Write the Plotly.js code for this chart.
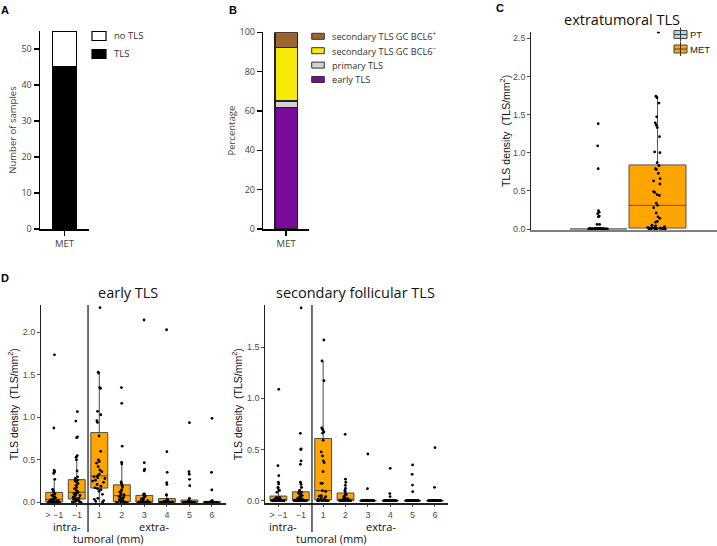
<!DOCTYPE html>
<html><head><meta charset="utf-8">
<script src="https://cdn.plot.ly/plotly-3.0.1.min.js"></script>
<style>html,body{margin:0;padding:0;background:#fff}#chart{width:717px;height:546px}</style>
</head><body><div id="chart"></div>
<script>
// ---------------- DATA ----------------
// Panel A
const metCategory = ['MET'];
const tlsCount = [45];
const noTlsCount = [10];
const panelALegend = ['no TLS', 'TLS'];

// Panel B (percent of TLS types, bottom to top)
const tlsTypeNames = ['early TLS', 'primary TLS', 'secondary TLS GC BCL6<sup>−</sup>', 'secondary TLS GC BCL6<sup>+</sup>'];
const tlsTypePercent = [61.7, 3.5, 27.0, 7.8];

// Panel C (extratumoral TLS density)
const extraGroups = ['PT', 'MET'];
const extraPT = [1.38, 1.09, 0.79, 0.24, 0.22, 0.20, 0.17, 0.16, 0.06, 0.06,
  0.005, 0.005, 0.005, 0.005,
  0, 0, 0, 0, 0, 0, 0, 0, 0, 0, 0, 0, 0, 0, 0, 0, 0, 0, 0, 0, 0, 0, 0, 0, 0, 0, 0, 0, 0, 0, 0];
const extraMET = [0, 0, 0, 0, 0, 0, 0.005, 0.01, 0.01, 0.01, 0.01, 0.012, 0.012,
  0.02, 0.02, 0.03, 0.04, 0.05, 0.09, 0.10, 0.14, 0.16, 0.21, 0.28, 0.31,
  0.34, 0.44, 0.45, 0.48, 0.49, 0.59, 0.63, 0.66, 0.73, 0.78, 0.79, 0.83,
  0.87, 1.00, 1.01, 1.21, 1.33, 1.36, 1.39, 1.47, 1.65, 1.72, 1.74, 2.58];

// Panel D (TLS density by distance to tumour border)
const distanceLabels = ['> −1', '−1', '1', '2', '3', '4', '5', '6'];
const earlyGtM1 = [0, 0, 0, 0, 0, 0, 0, 0, 0, 0.005, 0.008, 0.01, 0.012, 0.015, 0.02, 0.022, 0.025, 0.03, 0.035,
  0.043, 0.05, 0.063, 0.07, 0.082, 0.09, 0.094, 0.10, 0.11, 0.137, 0.153, 0.27, 0.34, 0.356, 0.37, 0.374, 0.874, 1.735];
const earlyM1 = [0, 0, 0, 0.005, 0.01, 0.01, 0.02, 0.025, 0.03, 0.035, 0.04, 0.045, 0.05, 0.06, 0.07, 0.08, 0.09, 0.10, 0.105, 0.11,
  0.118, 0.13, 0.15, 0.16, 0.18, 0.20, 0.22, 0.24, 0.25, 0.255, 0.262, 0.28, 0.30, 0.37, 0.50, 0.53, 0.55, 0.76, 0.77, 0.956, 1.066];
const early1 = [0, 0.01, 0.02, 0.035, 0.047, 0.094, 0.13, 0.15, 0.16, 0.17, 0.19, 0.21, 0.235, 0.25, 0.26, 0.28, 0.29, 0.30,
  0.31, 0.33, 0.36, 0.38, 0.42, 0.46, 0.48, 0.50, 0.60, 0.78, 0.94, 0.96, 1.03, 1.07, 1.34, 1.35, 1.52, 1.53, 2.29];
const early2 = [0, 0, 0, 0, 0.005, 0.005, 0.008, 0.01, 0.02, 0.03, 0.04, 0.05, 0.06, 0.07, 0.078, 0.09, 0.10, 0.12, 0.13, 0.15,
  0.18, 0.20, 0.22, 0.24, 0.45, 0.47, 0.66, 1.165, 1.35];
const early3 = [0, 0, 0, 0, 0, 0, 0, 0, 0, 0, 0.002, 0.005, 0.005, 0.008, 0.01, 0.02, 0.03, 0.04, 0.05, 0.06, 0.07, 0.078,
  0.09, 0.095, 0.10, 0.37, 0.39, 0.466, 2.145];
const early4 = [0, 0, 0, 0, 0, 0, 0, 0, 0, 0, 0, 0, 0, 0, 0, 0.005, 0.01, 0.01, 0.015, 0.02, 0.025, 0.03,
  0.086, 0.086, 0.21, 0.23, 0.353, 0.596, 2.03];
const early5 = [0, 0, 0, 0, 0, 0, 0, 0, 0, 0, 0, 0, 0, 0, 0, 0.005, 0.01, 0.015, 0.02, 0.047, 0.195, 0.27, 0.33, 0.36, 0.937];
const early6 = [0, 0, 0, 0, 0, 0, 0, 0, 0, 0, 0, 0, 0, 0, 0, 0, 0.004, 0.006, 0.01, 0.012, 0.015, 0.02, 0.145, 0.353, 0.988];

const secGtM1 = [0, 0, 0, 0, 0, 0, 0, 0, 0, 0, 0, 0, 0, 0, 0.002, 0.004, 0.005, 0.006, 0.008, 0.009, 0.01,
  0.012, 0.014, 0.015, 0.017, 0.02, 0.022, 0.025, 0.028, 0.03, 0.033,
  0.082, 0.10, 0.104, 0.125, 0.13, 0.163, 0.18, 0.244, 0.342, 1.088];
const secM1 = [0, 0, 0, 0, 0, 0, 0, 0, 0, 0, 0, 0, 0, 0, 0.002, 0.004, 0.005, 0.006, 0.008, 0.009, 0.01,
  0.015, 0.02, 0.025, 0.03, 0.04, 0.05, 0.06, 0.07, 0.075, 0.082,
  0.10, 0.13, 0.16, 0.18, 0.355, 0.388, 0.50, 0.505, 0.658, 1.882];
const sec1 = [0, 0, 0, 0, 0, 0, 0, 0, 0.01, 0.015, 0.02, 0.03, 0.04, 0.045, 0.05, 0.09, 0.098,
  0.17, 0.17, 0.283, 0.371, 0.388, 0.437, 0.476, 0.59, 0.66, 0.67, 0.69, 0.70, 0.71, 1.172, 1.364, 1.569];
const sec2 = [0, 0, 0, 0, 0, 0, 0, 0, 0, 0, 0.005, 0.005, 0.008, 0.01, 0.015, 0.02, 0.03, 0.04, 0.05, 0.055, 0.06, 0.07,
  0.09, 0.10, 0.12, 0.15, 0.18, 0.21, 0.648];
const sec3 = [0, 0, 0, 0, 0, 0, 0, 0, 0, 0, 0, 0, 0, 0, 0, 0, 0, 0, 0, 0, 0, 0, 0, 0.117, 0.456];
const sec4 = [0, 0, 0, 0, 0, 0, 0, 0, 0, 0, 0, 0, 0, 0, 0, 0, 0, 0, 0, 0, 0, 0, 0.04, 0.07, 0.316];
const sec5 = [0, 0, 0, 0, 0, 0, 0, 0, 0, 0, 0, 0, 0, 0, 0, 0, 0, 0, 0, 0, 0, 0.088, 0.153, 0.258, 0.349];
const sec6 = [0, 0, 0, 0, 0, 0, 0, 0, 0, 0, 0, 0, 0, 0, 0, 0, 0, 0, 0, 0, 0, 0, 0, 0.131, 0.518];

const earlyByDistance = [earlyGtM1, earlyM1, early1, early2, early3, early4, early5, early6];
const secByDistance = [secGtM1, secM1, sec1, sec2, sec3, sec4, sec5, sec6];

// ---------------- STYLE / LAYOUT ----------------
const W = 717, H = 546;
const fx = p => p / W, fy = p => 1 - p / H;
const typeColors = ['#790A9A', '#D2D2D2', '#F4EA06', '#9B6630'];
const groupColors = ['#ADD8E6', '#FFA500'];
const prismFont = {family: 'Open Sans', size: 9, color: '#444'};
const ggTick = {family: 'Liberation Sans, Arial', size: 9, color: '#4d4d4d'};
const ggTitle = {family: 'Liberation Sans, Arial', size: 10.5, color: '#111'};

const traces = [];
// Panel A bars
traces.push({type: 'bar', x: metCategory, y: tlsCount, name: panelALegend[1], width: 0.49,
  marker: {color: '#000', line: {color: '#000', width: 1.5}}, xaxis: 'x', yaxis: 'y', showlegend: false, hoverinfo: 'skip'});
traces.push({type: 'bar', x: metCategory, y: noTlsCount, name: panelALegend[0], width: 0.49,
  marker: {color: '#fff', line: {color: '#000', width: 1.5}}, xaxis: 'x', yaxis: 'y', showlegend: false, hoverinfo: 'skip'});
// Panel B bars
tlsTypeNames.forEach((n, i) => traces.push({type: 'bar', x: metCategory, y: [tlsTypePercent[i]], name: n, width: 0.49,
  marker: {color: typeColors[i], line: {color: '#222', width: 1.5}}, xaxis: 'x2', yaxis: 'y2', showlegend: false, hoverinfo: 'skip'}));
// Panel C boxes
[extraPT, extraMET].forEach((vals, i) => traces.push({type: 'box', y: vals, x: vals.map(() => extraGroups[i]), name: extraGroups[i],
  xaxis: 'x3', yaxis: 'y3', boxpoints: 'all', jitter: 0.35, pointpos: 0, width: 0.966, whiskerwidth: 0,
  fillcolor: groupColors[i], line: {color: i === 0 ? '#7f7f7f' : '#555', width: 1},
  marker: {color: '#000', size: 2.8}, showlegend: false, hoverinfo: 'skip'}));
// Panel D boxes
function addD(series, xa, ya) {
  series.forEach((vals, i) => traces.push({type: 'box', y: vals, x: vals.map(() => i + 1), name: distanceLabels[i],
    xaxis: xa, yaxis: ya, boxpoints: 'all', jitter: 0.8, pointpos: 0, width: 0.75, whiskerwidth: 0,
    fillcolor: '#FFA500', line: {color: '#4a4a4a', width: 1},
    marker: {color: '#000', size: 2.8}, showlegend: false, hoverinfo: 'skip'}));
}
addD(earlyByDistance, 'x4', 'y4');
addD(secByDistance, 'x5', 'y5');

const base = {showgrid: false, zeroline: false, fixedrange: true, showline: true};
const prismY = Object.assign({}, base, {linecolor: '#000', linewidth: 1.5, ticks: 'outside', ticklen: 5, tickwidth: 1.5, tickcolor: '#000', tickfont: prismFont});
const prismX = Object.assign({}, base, {type: 'category', range: [-0.5, 0.5], linecolor: '#000', linewidth: 1.5, ticks: 'outside', ticklen: 5, tickwidth: 1.5, tickcolor: '#000', tickfont: {family: 'Open Sans', size: 9.5, color: '#444'}});
const ggY = Object.assign({}, base, {linecolor: '#222', linewidth: 1.2, ticks: 'outside', ticklen: 2.5, tickcolor: '#4d4d4d', tickfont: ggTick});
const ggX = Object.assign({}, base, {linecolor: '#222', linewidth: 1.2, ticks: 'outside', ticklen: 2.5, tickcolor: '#4d4d4d', tickfont: ggTick,
  range: [0.4, 8.6], tickvals: [1, 2, 3, 4, 5, 6, 7, 8], ticktext: distanceLabels});
const fmt = v => v.map(t => t.toFixed(1));

const layout = {
  width: W, height: H, margin: {l: 0, r: 0, t: 0, b: 0}, paper_bgcolor: '#fff', plot_bgcolor: 'rgba(0,0,0,0)',
  showlegend: false, barmode: 'stack', boxmode: 'overlay', font: {family: 'Open Sans', color: '#000'},
  xaxis: Object.assign({}, prismX, {domain: [fx(40), fx(89)], anchor: 'y'}),
  yaxis: Object.assign({}, prismY, {domain: [fy(229), fy(31)], range: [0, 55], tickvals: [0, 10, 20, 30, 40, 50], anchor: 'x',
    title: {text: 'Number of samples', font: {family: 'Open Sans', size: 9.5, color: '#444'}, standoff: 3}}),
  xaxis2: Object.assign({}, prismX, {domain: [fx(263.3), fx(309)], anchor: 'y2'}),
  yaxis2: Object.assign({}, prismY, {domain: [fy(229), fy(32.3)], range: [0, 100], tickvals: [0, 20, 40, 60, 80, 100], anchor: 'x2',
    title: {text: 'Percentage', font: {family: 'Open Sans', size: 9.5, color: '#444'}, standoff: 2}}),
  xaxis3: Object.assign({}, base, {domain: [fx(531), 1], type: 'category', categoryorder: 'array', categoryarray: extraGroups,
    range: [-1.144, 2.008], linecolor: '#808080', linewidth: 2, showticklabels: false, ticks: '', anchor: 'y3'}),
  yaxis3: Object.assign({}, ggY, {domain: [fy(230), fy(31.7)], range: [-0.013, 2.586], tickvals: [0, 0.5, 1, 1.5, 2, 2.5],
    ticktext: fmt([0, 0.5, 1, 1.5, 2, 2.5]), anchor: 'x3', title: {text: 'TLS density  (TLS/mm<sup>2</sup>)', font: ggTitle, standoff: 0}}),
  xaxis4: Object.assign({}, ggX, {domain: [fx(40.7), fx(225.5)], anchor: 'y4'}),
  yaxis4: Object.assign({}, ggY, {domain: [fy(503.3), fy(305)], range: [-0.0118, 2.3215], tickvals: [0, 0.5, 1, 1.5, 2],
    ticktext: fmt([0, 0.5, 1, 1.5, 2]), anchor: 'x4', title: {text: 'TLS density  (TLS/mm<sup>2</sup>)', font: ggTitle, standoff: 2}}),
  xaxis5: Object.assign({}, ggX, {domain: [fx(265), fx(448.4)], anchor: 'y5'}),
  yaxis5: Object.assign({}, ggY, {domain: [fy(503.3), fy(305)], range: [-0.0254, 1.911], tickvals: [0, 0.5, 1, 1.5],
    ticktext: fmt([0, 0.5, 1, 1.5]), anchor: 'x5', title: {text: 'TLS density  (TLS/mm<sup>2</sup>)', font: ggTitle, standoff: 2}}),
  shapes: [], annotations: []
};

const S = layout.shapes, A = layout.annotations;
function txt(text, x, y, font, opts) {
  A.push(Object.assign({text: text, x: fx(x), y: fy(y), xref: 'paper', yref: 'paper', showarrow: false,
    xanchor: 'center', yanchor: 'middle', font: font}, opts || {}));
}
function rect(x0, y0, x1, y1, fill, lc, lw) {
  S.push({type: 'rect', xref: 'paper', yref: 'paper', x0: fx(x0), x1: fx(x1), y0: fy(y1), y1: fy(y0),
    fillcolor: fill, line: {color: lc, width: lw}});
}
function line(x0, y0, x1, y1, lc, lw) {
  S.push({type: 'line', xref: 'paper', yref: 'paper', x0: fx(x0), x1: fx(x1), y0: fy(y0), y1: fy(y1), line: {color: lc, width: lw}});
}

// Panel letters
const letterFont = {family: 'Liberation Sans, Arial', size: 11, color: '#000'};
txt('<b>A</b>', 5, 10, letterFont);
txt('<b>B</b>', 233, 10, letterFont);
txt('<b>C</b>', 500, 8, letterFont);
txt('<b>D</b>', 5, 278, letterFont);

// Legend A
const legA = [{name: panelALegend[0], fill: '#fff'}, {name: panelALegend[1], fill: '#000'}];
legA.forEach((e, i) => {
  const yc = 36 + i * 18;
  rect(92, yc - 4.5, 106, yc + 4.5, e.fill, '#000', 1.2);
  txt(e.name, 112, yc, {family: 'Open Sans', size: 9.5, color: '#333'}, {xanchor: 'left'});
});
// Legend B (top to bottom = reversed stack order)
[3, 2, 1, 0].forEach((k, i) => {
  const yc = 36.3 + i * 14.4;
  rect(311.7, yc - 3, 324.3, yc + 3, typeColors[k], '#333', 1);
  txt(tlsTypeNames[k], 330, yc, {family: 'Open Sans', size: 9.2, color: '#333'}, {xanchor: 'left'});
});
// Legend C
extraGroups.forEach((g, i) => {
  const yc = 34.5 + i * 14.5;
  line(680.5, yc - 7, 680.5, yc + 7, '#333', 1);
  rect(674, yc - 4, 687, yc + 4, groupColors[i], '#444', 1);
  line(674, yc, 687, yc, '#444', 1);
  line(680.5, yc - 4, 680.5, yc + 4, '#333', 1);
  txt(g, 688, yc, {family: 'Liberation Sans, Arial', size: 9.5, color: '#222'}, {xanchor: 'left'});
});

// Titles and annotations
const titleFont = {family: 'Open Sans', size: 14.5, color: '#111'};
txt('extratumoral TLS', 622, 20, titleFont);
txt('early TLS', 127.5, 292, titleFont);
txt('secondary follicular TLS', 355.5, 292, titleFont);
const lblFont = {family: 'Open Sans', size: 11, color: '#111'};
txt('intra-', 66.7, 526.5, lblFont);
txt('extra-', 154, 526.5, lblFont);
txt('tumoral (mm)', 108, 538.5, lblFont);
txt('intra-', 283, 526.5, lblFont);
txt('extra-', 381, 526.5, lblFont);
txt('tumoral (mm)', 331, 538.5, lblFont);

// separators between intra- and extratumoral
['x4', 'x5'].forEach(xa => S.push({type: 'line', xref: xa, yref: 'paper', x0: 2.5, x1: 2.5, y0: fy(532), y1: fy(305),
  line: {color: '#111', width: 1.2}}));

Plotly.newPlot('chart', traces, layout, {staticPlot: true, displayModeBar: false});
</script></body></html>
